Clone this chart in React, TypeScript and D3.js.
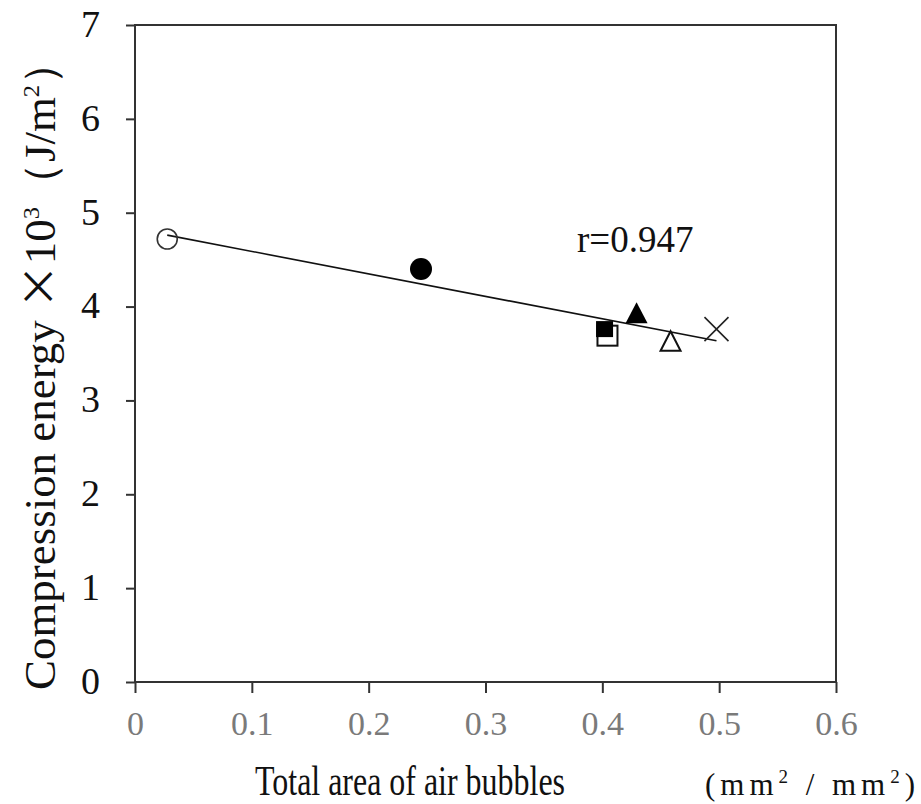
import React, { useRef, useEffect } from 'react';
import * as d3 from 'd3';

// Sample points
const samples = ['open circle', 'filled circle', 'filled square', 'open square', 'filled triangle', 'open triangle', 'cross'];
const bubbleArea = [0.0276, 0.2448, 0.4019, 0.4044, 0.4293, 0.4584, 0.4977];
const compressionEnergy = [4.72, 4.40, 3.76, 3.69, 3.93, 3.63, 3.76];
const xTicks = [0, 0.1, 0.2, 0.3, 0.4, 0.5, 0.6];
const yTicks = [0, 1, 2, 3, 4, 5, 6, 7];
const corrLabel = 'r=0.947';

const App = () => {
  const chartRef = useRef<SVGSVGElement | null>(null);

  useEffect(() => {
    const width = 921;
    const height = 804;
    const margin = { left: 135, right: 85, top: 25, bottom: 122 };

    const svg = d3.select(chartRef.current);
    svg.selectAll('*').remove();

    const x = d3.scaleLinear().domain([0, 0.6]).range([margin.left, width - margin.right]);
    const y = d3.scaleLinear().domain([0, 7]).range([height - margin.bottom, margin.top]);

    const serif = "'Liberation Serif', 'Times New Roman', serif";

    // frame
    svg.append('rect')
      .attr('x', x(0)).attr('y', y(7))
      .attr('width', x(0.6) - x(0)).attr('height', y(0) - y(7))
      .attr('fill', 'none').attr('stroke', '#333').attr('stroke-width', 2);

    // y axis ticks + labels
    const yAxis = svg.append('g')
      .attr('transform', `translate(${x(0)},0)`)
      .call(d3.axisLeft(y).tickValues(yTicks).tickSize(9).tickPadding(26).tickFormat(d3.format('d')));
    yAxis.select('.domain').remove();
    yAxis.selectAll('line').attr('stroke', '#333').attr('stroke-width', 2);
    yAxis.selectAll('text')
      .attr('font-family', serif).attr('font-size', 38).attr('fill', '#111').attr('dy', '0.3em');

    // x axis ticks + labels
    const xAxis = svg.append('g')
      .attr('transform', `translate(0,${y(0)})`)
      .call(d3.axisBottom(x).tickValues(xTicks).tickSize(11).tickPadding(18).tickFormat(d => (d === 0 ? '0' : d3.format('.1f')(d as number))));
    xAxis.select('.domain').remove();
    xAxis.selectAll('line').attr('stroke', '#333').attr('stroke-width', 2);
    xAxis.selectAll('text')
      .attr('font-family', serif).attr('font-size', 34).attr('fill', '#7a7a7a');

    // regression line
    const n = bubbleArea.length;
    const mx = d3.mean(bubbleArea) as number;
    const my = d3.mean(compressionEnergy) as number;
    let sxy = 0;
    let sxx = 0;
    for (let i = 0; i < n; i++) {
      sxy += (bubbleArea[i] - mx) * (compressionEnergy[i] - my);
      sxx += (bubbleArea[i] - mx) ** 2;
    }
    const slope = sxy / sxx;
    const intercept = my - slope * mx;
    const [x0, x1] = d3.extent(bubbleArea) as [number, number];
    svg.append('line')
      .attr('x1', x(x0)).attr('y1', y(intercept + slope * x0))
      .attr('x2', x(x1)).attr('y2', y(intercept + slope * x1))
      .attr('stroke', '#111').attr('stroke-width', 1.6);

    // markers (open square drawn before filled square so it sits behind)
    const order = [0, 1, 3, 2, 4, 5, 6];
    const g = svg.append('g');
    order.forEach(i => {
      const s = samples[i];
      const cx = x(bubbleArea[i]);
      const cy = y(compressionEnergy[i]);
      const m = g.append('g').attr('transform', `translate(${cx},${cy})`);
      if (s === 'open circle' || s === 'filled circle') {
        m.append('circle').attr('r', s === 'open circle' ? 10 : 11)
          .attr('fill', s === 'open circle' ? 'none' : '#000')
          .attr('stroke', s === 'open circle' ? '#333' : 'none').attr('stroke-width', 1.6);
      } else if (s === 'open square') {
        m.append('rect').attr('x', -10).attr('y', -10).attr('width', 20).attr('height', 20)
          .attr('fill', '#fff').attr('stroke', '#111').attr('stroke-width', 2);
      } else if (s === 'filled square') {
        m.append('rect').attr('x', -8.5).attr('y', -8).attr('width', 17).attr('height', 16)
          .attr('fill', '#000');
      } else if (s === 'filled triangle') {
        m.append('path').attr('d', 'M0,-11L11,10L-11,10Z').attr('fill', '#000');
      } else if (s === 'open triangle') {
        m.append('path').attr('d', 'M0,-10L10,9.5L-10,9.5Z')
          .attr('fill', '#fff').attr('stroke', '#111').attr('stroke-width', 2);
      } else {
        m.append('path').attr('d', 'M-12,-12L12,12M-12,12L12,-12')
          .attr('stroke', '#222').attr('stroke-width', 1.6);
      }
    });

    // correlation label
    svg.append('text')
      .attr('x', 577).attr('y', 252)
      .attr('font-family', serif).attr('font-size', 37).attr('fill', '#111')
      .text(corrLabel);

    // y title
    const yt = svg.append('text')
      .attr('transform', `translate(${55},${365}) rotate(-90)`)
      .attr('text-anchor', 'middle')
      .attr('font-family', serif).attr('font-size', 44).attr('fill', '#111')
      .attr('textLength', 650).attr('lengthAdjust', 'spacingAndGlyphs');
    yt.append('tspan').text('Compression energy ');
    yt.append('tspan').attr('font-family', "'Noto Sans CJK JP', sans-serif").text('\u00d7');
    yt.append('tspan').text('10');
    yt.append('tspan').attr('font-size', 24).attr('dy', -16).text('3');
    yt.append('tspan').attr('dy', 16).text('\uff08J/m');
    yt.append('tspan').attr('font-size', 24).attr('dy', -16).text('2');
    yt.append('tspan').attr('dy', 16).text('\uff09');

    // x title
    svg.append('text')
      .attr('x', 410).attr('y', 795)
      .attr('text-anchor', 'middle')
      .attr('font-family', serif).attr('font-size', 43).attr('fill', '#111')
      .attr('textLength', 310).attr('lengthAdjust', 'spacingAndGlyphs')
      .text('Total area of air bubbles');

    const unit = svg.append('text')
      .attr('x', 705).attr('y', 795)
      .attr('font-family', serif).attr('font-size', 31).attr('fill', '#111')
      .attr('textLength', 210).attr('lengthAdjust', 'spacing');
    unit.append('tspan').text('(mm');
    unit.append('tspan').attr('font-size', 19).attr('dy', -12).text('2');
    unit.append('tspan').attr('dy', 12).text(' / mm');
    unit.append('tspan').attr('font-size', 19).attr('dy', -12).text('2');
    unit.append('tspan').attr('dy', 12).text(')');
  }, []);

  return (
    <svg ref={chartRef} width={921} height={804}
      style={{ position: 'absolute', left: 0, top: 0, background: '#fff' }} />
  );
};

export default App;
